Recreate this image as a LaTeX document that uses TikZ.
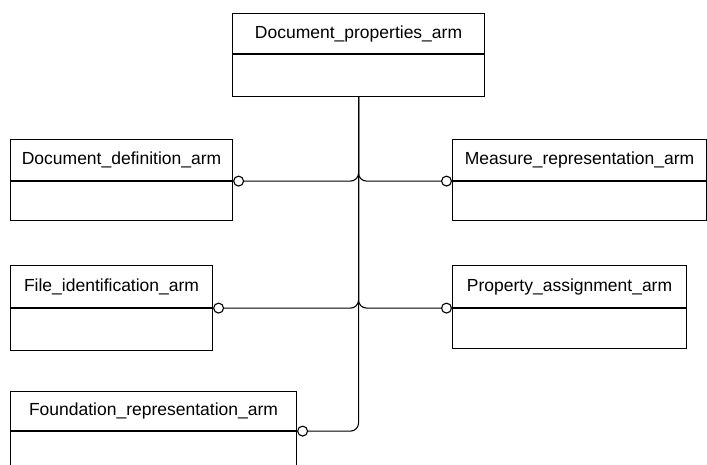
\documentclass[tikz,border=0pt]{standalone}
\usepackage{fontspec}
\setmainfont{Liberation Sans}
\usetikzlibrary{positioning,arrows.meta}
\begin{document}
\begin{tikzpicture}[x=1pt,y=-1pt,line width=1.1pt,
				every node/.style={draw,rectangle,inner sep=0pt,font=\fontsize{17.5}{20}\selectfont},
				head/.style={anchor=north west,minimum width=#1,minimum height=41pt},
				body/.style={anchor=north west,minimum width=#1,minimum height=41pt},
				conn/.style={rounded corners=8pt,-{Circle[open,length=11pt,width=11pt]}}]
\useasboundingbox (0,0) rectangle (707,465);
\node[head=252pt,minimum height=40pt] (dprop) at (232,13) {Document\_properties\_arm};
\node[body=252pt,minimum height=42pt] (dpropb) at (dprop.south west) {};
\node[head=222pt] (ddef) at (10,139) {Document\_definition\_arm};
\node[body=222pt,minimum height=39pt] (ddefb) at (ddef.south west) {};
\node[head=254pt] (meas) at (452,139) {Measure\_representation\_arm};
\node[body=254pt,minimum height=39pt] (measb) at (meas.south west) {};
\node[head=202pt,minimum height=42pt] (fid) at (10,265) {File\_identification\_arm};
\node[body=202pt,minimum height=42pt] (fidb) at (fid.south west) {};
\node[head=234pt,minimum height=42pt] (pass) at (452,265) {Property\_assignment\_arm};
\node[body=234pt,minimum height=40pt] (passb) at (pass.south west) {};
\node[head=286pt,minimum height=39pt] (found) at (10,391) {Foundation\_representation\_arm};
\node[body=286pt,minimum height=45pt] (foundb) at (found.south west) {};
\draw[conn] (dpropb.south) |- (ddef.south east);
\draw[conn] (dpropb.south) |- (meas.south west);
\draw[conn] (dpropb.south) |- (fid.south east);
\draw[conn] (dpropb.south) |- (pass.south west);
\draw[conn] (dpropb.south) |- (found.south east);
\end{tikzpicture}
\end{document}
